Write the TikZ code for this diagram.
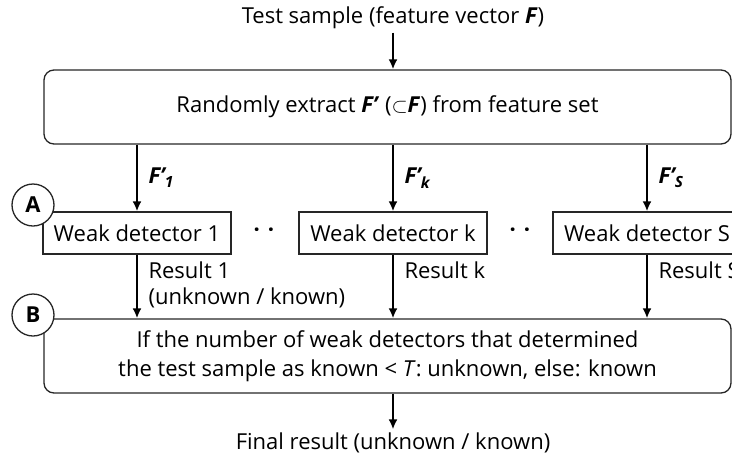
\documentclass[tikz,border=0pt]{standalone}
\usepackage{fontspec}
\setmainfont{Open Sans}
\usetikzlibrary{arrows.meta}

% bold italic feature symbol
\newcommand{\fv}[1]{\textbf{\textit{#1}}}

\begin{document}
\begin{tikzpicture}[x=1pt,y=-1pt,font=\fontsize{22}{26}\selectfont,
	roundbox/.style={draw=black!85, line width=1.3pt, rounded corners=10pt, minimum width=687pt},
	detector/.style={draw=black!85, line width=1.3pt, minimum width=188pt, minimum height=42pt, inner sep=0pt},
	tag/.style={draw=black!85, circle, fill=white, line width=1.3pt, minimum size=42pt, inner sep=0pt, font=\fontsize{22}{24}\selectfont\bfseries},
	flow/.style={-{Latex[length=10pt,width=9pt]}, line width=2.4pt}]
\useasboundingbox (0,0) rectangle (732,459);
\clip (0,0) rectangle (732,459);

\node (sample) at (393,18) {Test sample (feature vector \fv{F})};
\node[roundbox, minimum height=74pt] (extract) at (387.5,107) {Randomly extract \fv{F’} ($\subset$\fv{F}) from feature set};

\node[detector] (det1) at (137,233) {Weak detector 1};
\node[detector] (detk) at (393,233) {Weak detector k};
\node[detector] (detS) at (647,233) {Weak detector S};
\node (dots1) at (264,233) {\bfseries·\hspace{8pt}·};
\node (dots2) at (520,233) {\bfseries·\hspace{8pt}·};

\node[roundbox, minimum height=74pt, align=center, font=\fontsize{22}{29}\selectfont] (vote) at (387.5,356)
	{If the number of weak detectors that determined\\the test sample as known < \textit{T}: unknown, else: known};
\node (final) at (393,443) {Final result (unknown / known)};

\node[tag] (tagA) at (33,205) {A};
\node[tag] (tagB) at (33,315) {B};

% arrows
\draw[flow] (sample.south) -- (sample.south |- extract.north);
\foreach \d/\s in {det1/1, detk/k, detS/S}{
	\draw[flow] (extract.south -| \d) -- (\d.north)
		node[midway, right, xshift=7pt] {\fv{F’\textsubscript{\s}}};
}
\draw[flow] (det1.south) -- (vote.north -| det1)
	node[pos=0, anchor=north west, xshift=7pt, yshift=-3pt, align=left] {Result 1\\(unknown / known)};
\draw[flow] (detk.south) -- (vote.north -| detk)
	node[pos=0, anchor=north west, xshift=7pt, yshift=-3pt] {Result k};
\draw[flow] (detS.south) -- (vote.north -| detS)
	node[pos=0, anchor=north west, xshift=7pt, yshift=-3pt] {Result S};
\draw[flow] (vote.south -| final) -- (final.north);
\end{tikzpicture}
\end{document}
